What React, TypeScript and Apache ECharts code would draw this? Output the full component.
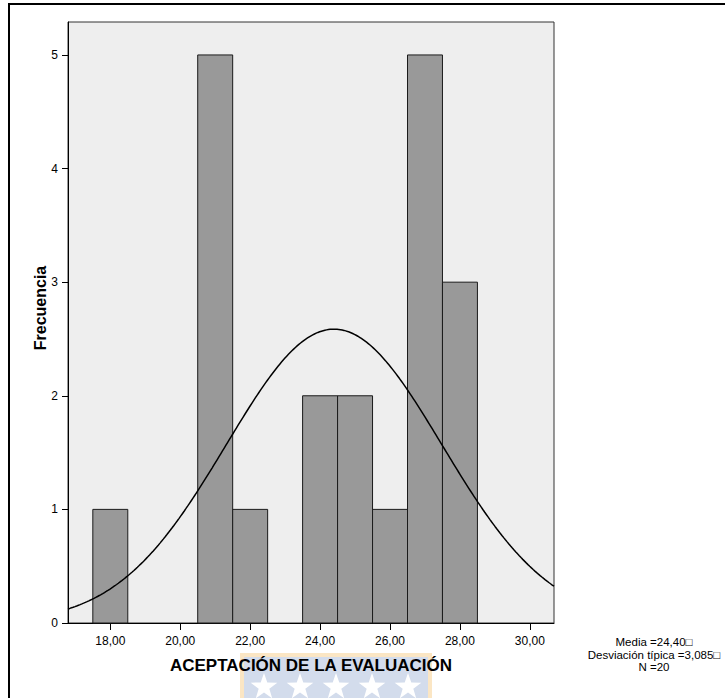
import React, { useEffect, useRef } from "react";
import * as echarts from "echarts";

// ---- Data ----
const BIN_CENTERS = [18, 21, 22, 24, 25, 26, 27, 28];
const COUNTS = [1, 5, 1, 2, 2, 1, 5, 3];
const BIN_WIDTH = 1;
const X_TICKS = [18, 20, 22, 24, 26, 28, 30];
const Y_TICKS = [0, 1, 2, 3, 4, 5];
const X_MIN = 16.79;
const X_MAX = 30.69;
const Y_MAX = 5.29;
// Statistics printed on the chart (define the fitted normal curve)
const MEAN = 24.4;
const SD = 3.085;
const N = 20;
const STATS_LINES = ["Media =24,40\u25A1", "Desviación típica =3,085\u25A1", "N =20"];
const X_TITLE = "ACEPTACIÓN DE LA EVALUACIÓN";
const Y_TITLE = "Frecuencia";

const FONT = "'Liberation Sans', Arial, sans-serif";

function normalCurve(): number[][] {
  const pts: number[][] = [];
  const steps = 280;
  for (let i = 0; i <= steps; i++) {
    const x = X_MIN + ((X_MAX - X_MIN) * i) / steps;
    const z = (x - MEAN) / SD;
    const y = (N * BIN_WIDTH * Math.exp(-0.5 * z * z)) / (SD * Math.sqrt(2 * Math.PI));
    pts.push([x, y]);
  }
  return pts;
}

function starPoints(cx: number, cy: number, r: number): number[][] {
  const pts: number[][] = [];
  for (let i = 0; i < 10; i++) {
    const rr = i % 2 === 0 ? r : r * 0.4;
    const a = -Math.PI / 2 + (i * Math.PI) / 5;
    pts.push([cx + rr * Math.cos(a), cy + rr * Math.sin(a)]);
  }
  return pts;
}

export default function App() {
  const ref = useRef<HTMLDivElement>(null);
  useEffect(() => {
    document.body.style.margin = "0";
    if (!ref.current) return;
    const chart = echarts.init(ref.current, null, { renderer: "svg" });

    const barData = BIN_CENTERS.map((c, i) => [c, COUNTS[i]]);
    const starXs = [264, 300, 336, 372, 408];

    const option: any = {
      animation: false,
      backgroundColor: "#ffffff",
      textStyle: { fontFamily: FONT },
      grid: {
        left: 68,
        right: 171,
        top: 22,
        bottom: 75,
        show: true,
        backgroundColor: "#eeeeee",
        borderColor: "#333333",
        borderWidth: 1,
      },
      xAxis: {
        type: "value",
        min: X_MIN,
        max: X_MAX,
        name: X_TITLE,
        nameLocation: "middle",
        nameGap: 34,
        nameTextStyle: { fontFamily: FONT, fontSize: 17, fontWeight: "bold", color: "#000" },
        splitLine: { show: false },
        axisLine: { show: true, onZero: false, lineStyle: { color: "#000", width: 1 } },
        axisTick: { show: true, length: 7, customValues: X_TICKS, lineStyle: { color: "#000" } },
        axisLabel: {
          customValues: X_TICKS,
          margin: 12,
          fontSize: 12,
          color: "#000",
          fontFamily: FONT,
          formatter: (v: number) => v.toFixed(2).replace(".", ","),
        },
      },
      yAxis: {
        type: "value",
        min: 0,
        max: Y_MAX,
        splitLine: { show: false },
        axisLine: { show: true, lineStyle: { color: "#000", width: 1 } },
        axisTick: { show: true, length: 6, customValues: Y_TICKS, lineStyle: { color: "#000" } },
        axisLabel: {
          customValues: Y_TICKS,
          margin: 10,
          fontSize: 12,
          color: "#000",
          fontFamily: FONT,
        },
      },
      series: [
        {
          type: "custom",
          data: barData,
          encode: { x: 0, y: 1 },
          renderItem: (params: any, api: any) => {
            const c = api.value(0);
            const v = api.value(1);
            const p0 = api.coord([c - BIN_WIDTH / 2, 0]);
            const p1 = api.coord([c + BIN_WIDTH / 2, v]);
            return {
              type: "rect",
              shape: { x: p0[0], y: p1[1], width: p1[0] - p0[0], height: p0[1] - p1[1] },
              style: { fill: "#999999", stroke: "#1a1a1a", lineWidth: 1 },
            };
          },
          z: 2,
        },
        {
          type: "line",
          data: normalCurve(),
          showSymbol: false,
          symbol: "none",
          smooth: false,
          lineStyle: { color: "#000", width: 1.5 },
          z: 3,
        },
      ],
      graphic: [
        {
          type: "rect",
          z: -10,
          shape: { x: 9, y: 4, width: 900, height: 900 },
          style: { fill: "none", stroke: "#000", lineWidth: 2 },
          silent: true,
        },
        {
          type: "group",
          z: -5,
          silent: true,
          children: [
            {
              type: "rect",
              shape: { x: 242, y: 655, width: 188, height: 60 },
              style: { fill: "#d3dcec", stroke: "#fbe6c4", lineWidth: 4 },
            },
            ...starXs.map((sx) => ({
              type: "polygon",
              shape: { points: starPoints(sx, 687, 14) },
              style: { fill: "#ffffff" },
            })),
          ],
        },
        {
          type: "text",
          x: 40,
          y: 308,
          rotation: Math.PI / 2,
          style: {
            text: Y_TITLE,
            fontFamily: FONT,
            fontSize: 16,
            fontWeight: "bold",
            fill: "#000",
            textAlign: "center",
            textVerticalAlign: "middle",
          },
        },
        ...STATS_LINES.map((line, i) => ({
          type: "text",
          x: 654,
          y: 636 + i * 12.5,
          style: {
            text: line,
            fontFamily: FONT,
            fontSize: 11.5,
            fill: "#000",
            textAlign: "center",
            textVerticalAlign: "top",
          },
        })),
      ],
    };
    chart.setOption(option);
    return () => chart.dispose();
  }, []);
  return <div ref={ref} style={{ width: 725, height: 698 }} />;
}
